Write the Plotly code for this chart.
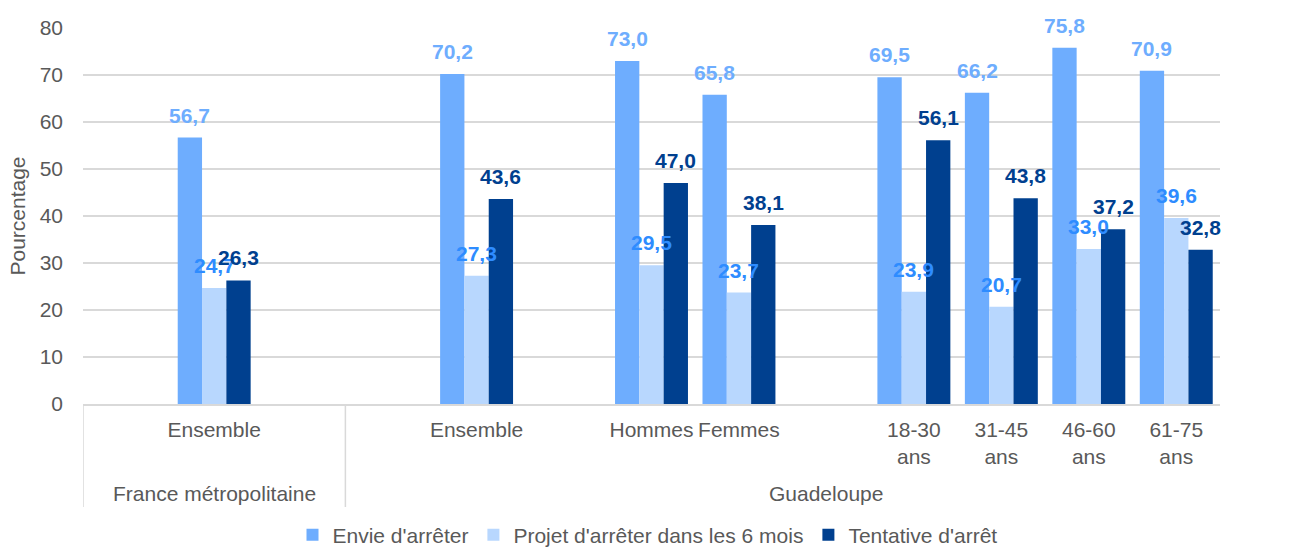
import plotly.graph_objects as go

# ---- data ----
slot_labels = ["", "Ensemble", "", "", "Ensemble", "", "Hommes", "Femmes", "",
               "18-30<br>ans", "31-45<br>ans", "46-60<br>ans", "61-75<br>ans"]
envie = [None, 56.7, None, None, 70.2, None, 73.0, 65.8, None, 69.5, 66.2, 75.8, 70.9]
projet = [None, 24.7, None, None, 27.3, None, 29.5, 23.7, None, 23.9, 20.7, 33.0, 39.6]
tentative = [None, 26.3, None, None, 43.6, None, 47.0, 38.1, None, 56.1, 43.8, 37.2, 32.8]
series_names = ["Envie d'arrêter", "Projet d'arrêter dans les 6 mois", "Tentative d'arrêt"]
group_names = ["France métropolitaine", "Guadeloupe"]
group_label_slot = [1, 8]
group_boundaries = [-0.5, 2.5]

bar_colors = ["#6EADFE", "#B8D7FE", "#00408F"]
label_colors = ["#6EADFE", "#2E8CFF", "#00408F"]
FONT = "Liberation Sans, Arial, sans-serif"
FS = 21
BARGAP = 0.166

x = list(range(len(slot_labels)))
series = [envie, projet, tentative]
fig = go.Figure()
for name, vals, bc in zip(series_names, series, bar_colors):
    fig.add_trace(go.Bar(
        x=x, y=vals, name=name, marker=dict(color=bc, line=dict(width=0)),
        hoverinfo="y",
    ))

# data labels drawn above all bars (as in the reference)
n = len(series)
bw = (1 - BARGAP) / n
for i, (vals, lc) in enumerate(zip(series, label_colors)):
    off = (i - (n - 1) / 2) * bw
    for xi, v in zip(x, vals):
        if v is None:
            continue
        fig.add_annotation(x=xi + off, y=v, xref="x", yref="y",
                           text=f"{v:.1f}".replace(".", ","), showarrow=False,
                           yanchor="bottom", yshift=9,
                           font=dict(family=FONT, size=FS, color=lc, weight="bold"))

tickvals = [i for i, l in enumerate(slot_labels) if l]
ticktext = [l for l in slot_labels if l]

fig.update_layout(
    width=1295, height=547,
    margin=dict(l=83, r=75, t=28, b=143),
    paper_bgcolor="white", plot_bgcolor="white",
    barmode="group", bargap=BARGAP, bargroupgap=0,
    separators=", ",
    font=dict(family=FONT, size=FS, color="#595959"),
    xaxis=dict(range=[-0.5, 12.5], tickvals=tickvals, ticktext=ticktext,
               showgrid=False, zeroline=False, showline=True, linecolor="#D9D9D9",
               linewidth=1.5, ticks="", ticklabelstandoff=6, automargin=False,
               tickfont=dict(family=FONT, size=FS, color="#595959")),
    yaxis=dict(range=[0, 80], dtick=10, showgrid=True, gridcolor="#D9D9D9",
               gridwidth=1.5, zeroline=False, showline=False, ticks="",
               ticklabelstandoff=19, automargin=False,
               tickfont=dict(family=FONT, size=FS, color="#595959"),
               title=dict(text="Pourcentage", standoff=8,
                          font=dict(family=FONT, size=FS, color="#595959"))),
    legend=dict(orientation="h", x=0.5, xanchor="center", xref="container",
                y=(547 - 535) / 547, yanchor="middle", yref="container",
                font=dict(family=FONT, size=FS, color="#595959"),
                itemwidth=30, traceorder="normal"),
    showlegend=True,
)

for name, slot in zip(group_names, group_label_slot):
    fig.add_annotation(x=slot, xref="x", y=0, yref="paper", yshift=-89,
                       text=name, showarrow=False, yanchor="middle",
                       font=dict(family=FONT, size=FS, color="#595959"))

for b in group_boundaries:
    fig.add_shape(type="line", xref="x", yref="paper", x0=b, x1=b, y0=0, y1=-0.274,
                  line=dict(color="#D9D9D9", width=1.5))

fig.write_html("out.html", config={"displayModeBar": False},
               post_script="document.body.style.margin='0px';document.body.style.overflow='hidden';")
